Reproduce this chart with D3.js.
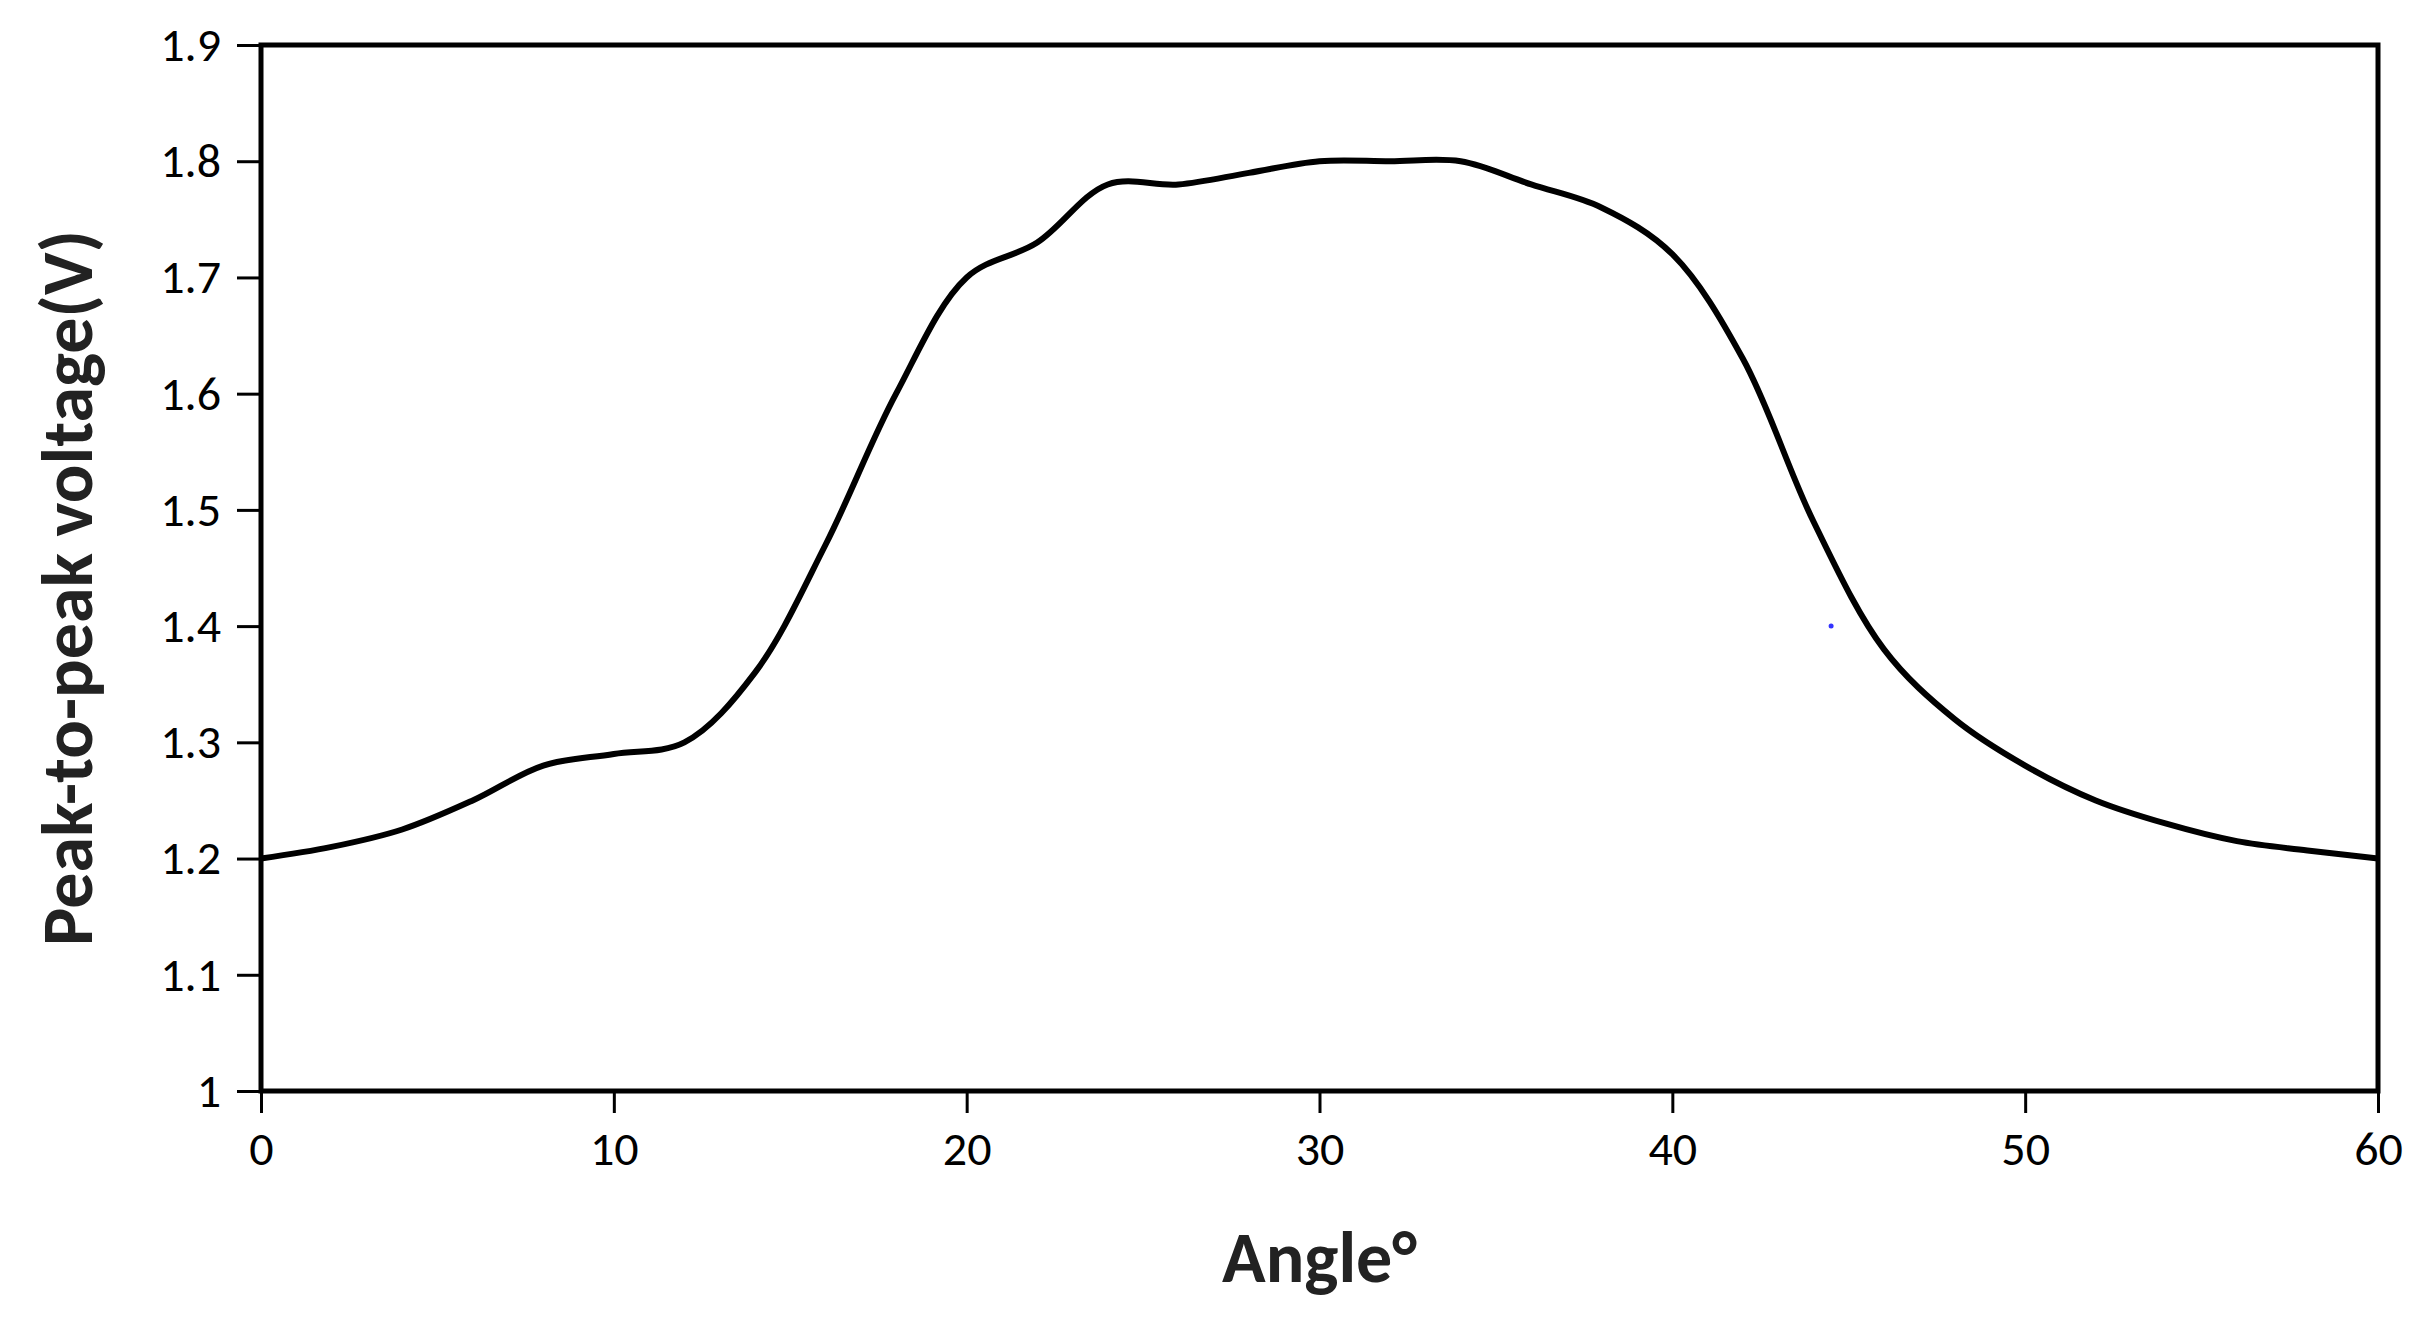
<!DOCTYPE html>
<html><head><meta charset="utf-8">
<script src="https://cdn.jsdelivr.net/npm/d3@7"></script>
<style>body{margin:0;background:#fff}text{font-family:Calibri,Lato,"Liberation Sans",sans-serif}</style>
</head><body>
<div class="chart"></div>
<script>
var angles=[0,2,4,6,8,10,12,14,16,18,20,22,24,26,28,30,32,34,36,38,40,42,44,46,48,50,52,54,56,58,60];
var voltage=[1.20,1.21,1.225,1.25,1.28,1.29,1.30,1.36,1.47,1.60,1.70,1.73,1.78,1.78,1.79,1.80,1.80,1.80,1.78,1.76,1.72,1.63,1.49,1.38,1.32,1.28,1.25,1.23,1.215,1.207,1.20];
var xTicks=[0,10,20,30,40,50,60];
var yTicks=[1,1.1,1.2,1.3,1.4,1.5,1.6,1.7,1.8,1.9];
var strayPoint=[{x:44.5,y:1.4}];

var W=2426,H=1328;
var margin={top:45,left:261,right:48,bottom:237};
var width=W-margin.left-margin.right, height=H-margin.top-margin.bottom;

var svg=d3.select(".chart").append("svg").attr("width",W).attr("height",H);
var g=svg.append("g").attr("transform","translate("+margin.left+","+margin.top+")");

var xScale=d3.scaleLinear().domain([0,60]).range([0,width]);
var yScale=d3.scaleLinear().domain([1,1.9]).range([height,0]);

g.append("rect").attr("width",width).attr("height",height)
  .attr("fill","none").attr("stroke","#000").attr("stroke-width",5);

var xa=g.append("g").attr("transform","translate(0,"+height+")")
  .call(d3.axisBottom(xScale).tickValues(xTicks).tickSize(22).tickPadding(18).tickFormat(d3.format("d")));
var ya=g.append("g")
  .call(d3.axisLeft(yScale).tickValues(yTicks).tickSize(24).tickPadding(16).tickFormat(function(d){return d3.format("~g")(d)}));
[xa,ya].forEach(function(a){
  a.select(".domain").remove();
  a.selectAll("line").attr("stroke","#000").attr("stroke-width",3);
  a.selectAll("text").attr("font-size",48).attr("fill","#000");
});

var line=d3.line().x(function(d,i){return xScale(angles[i])}).y(function(d){return yScale(d)})
  .curve(d3.curveCatmullRom.alpha(0.5));
g.append("path").datum(voltage).attr("d",line).attr("fill","none")
  .attr("stroke","#000").attr("stroke-width",6);

g.selectAll(".stray").data(strayPoint).enter().append("circle")
  .attr("cx",function(d){return xScale(d.x)}).attr("cy",function(d){return yScale(d.y)})
  .attr("r",2.5).attr("fill","#33f");

svg.append("text").text("Angle°").attr("x",margin.left+width/2).attr("y",1282)
  .attr("text-anchor","middle").attr("font-size",72).attr("font-weight","bold").attr("fill","#222");
svg.append("text").text("Peak-to-peak voltage(V)")
  .attr("transform","translate(92,"+(margin.top+height/2+20)+") rotate(-90)")
  .attr("text-anchor","middle").attr("font-size",72).attr("font-weight","bold").attr("fill","#222");
</script>
</body></html>
